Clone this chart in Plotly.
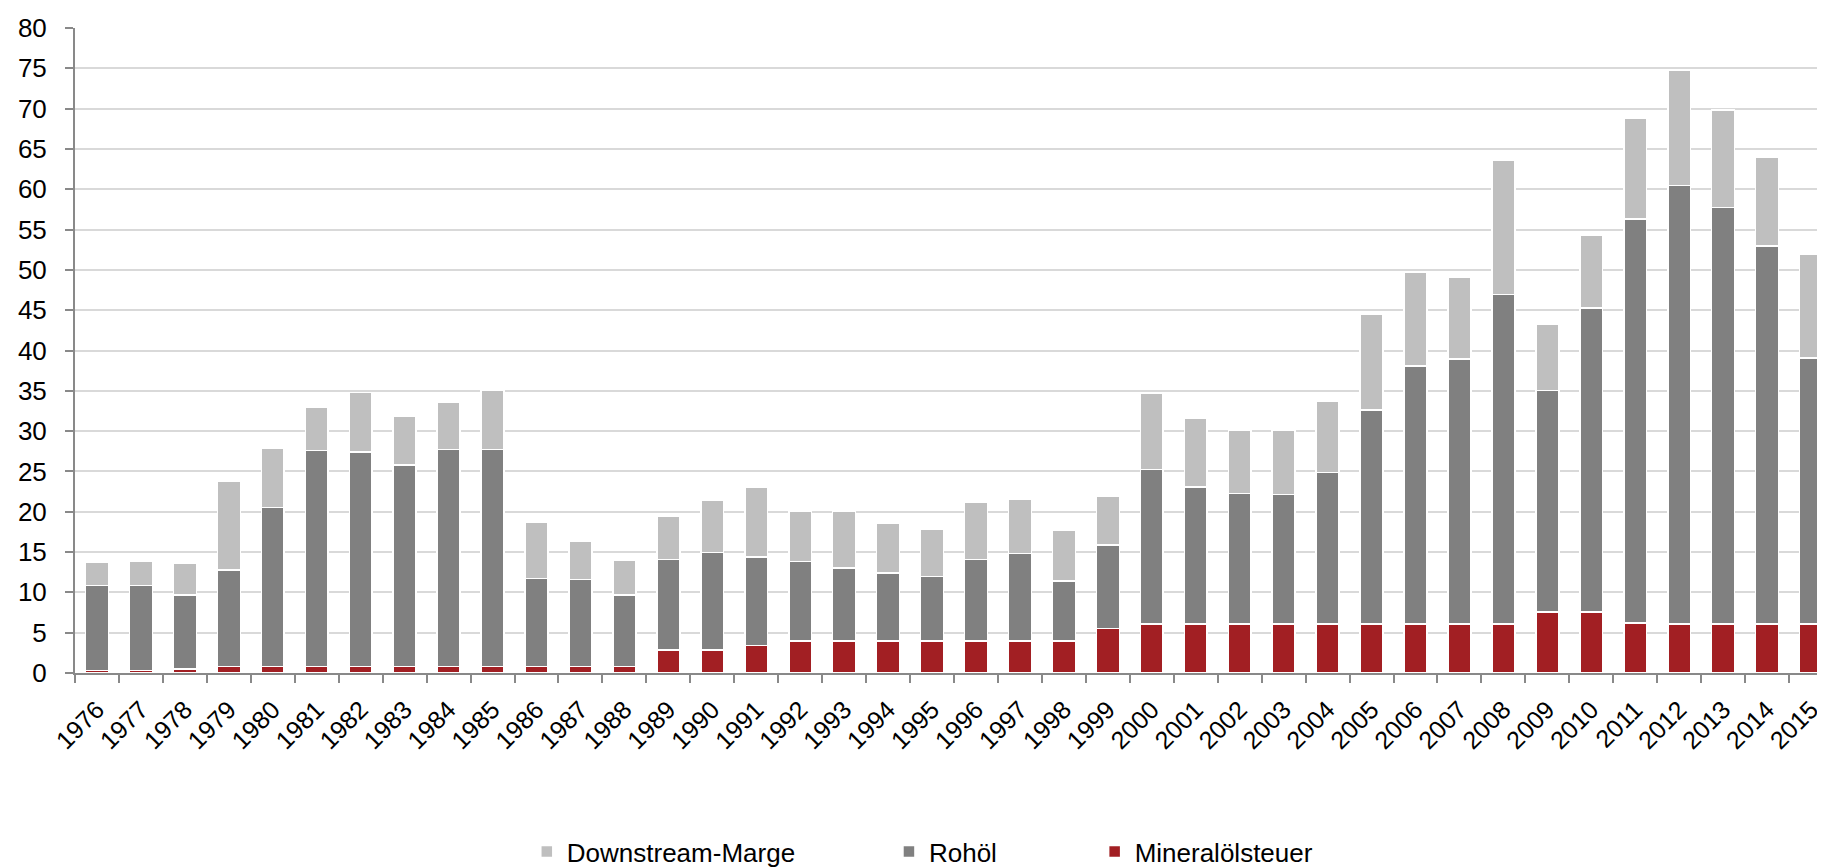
import plotly.graph_objects as go

# Years on the x axis
years = [str(y) for y in range(1976, 2016)]

# Segment values (stacked bottom to top)
mineraloelsteuer = [0.33, 0.33, 0.5, 0.8, 0.8, 0.8, 0.8, 0.8, 0.8, 0.8,
                    0.8, 0.8, 0.8, 2.85, 2.85, 3.4, 4.0, 4.0, 4.0, 4.0,
                    4.0, 4.0, 4.0, 5.5, 6.05, 6.05, 6.05, 6.05, 6.05, 6.05,
                    6.05, 6.05, 6.05, 7.55, 7.55, 6.2, 6.05, 6.05, 6.05, 6.05]

rohoel = [10.5, 10.5, 9.2, 12.0, 19.7, 26.8, 26.6, 25.0, 26.9, 26.9,
          10.9, 10.8, 8.9, 11.2, 12.1, 11.0, 9.8, 9.0, 8.4, 8.0,
          10.1, 10.8, 7.4, 10.4, 19.2, 17.0, 16.2, 16.1, 18.8, 26.6,
          32.0, 32.9, 40.9, 27.5, 37.7, 50.1, 54.4, 51.7, 46.9, 33.0]

downstream = [2.9, 3.0, 3.9, 11.0, 7.4, 5.3, 7.4, 6.0, 5.9, 7.4,
              7.0, 4.8, 4.3, 5.4, 6.5, 8.7, 6.3, 7.1, 6.2, 5.8,
              7.1, 6.8, 6.3, 6.0, 9.5, 8.6, 7.9, 8.0, 8.9, 11.9,
              11.6, 10.1, 16.7, 8.2, 9.1, 12.5, 14.3, 12.1, 11.0, 12.9]

y_ticks = list(range(0, 81, 5))

FONT = "Liberation Sans, Arial, sans-serif"

fig = go.Figure()

fig.add_trace(go.Bar(x=years, y=mineraloelsteuer, name="Mineralölsteuer",
                     marker=dict(color="#A21F23", line=dict(color="white", width=1.5)),
                     legend="legend3", showlegend=True))
fig.add_trace(go.Bar(x=years, y=rohoel, name="Rohöl",
                     marker=dict(color="#808080", line=dict(color="white", width=1.5)),
                     legend="legend2", showlegend=True))
fig.add_trace(go.Bar(x=years, y=downstream, name="Downstream-Marge",
                     marker=dict(color="#BFBFBF", line=dict(color="white", width=1.5)),
                     legend="legend", showlegend=True))

legend_common = dict(orientation="h", yanchor="middle", y=-0.2775, xanchor="left",
                     font=dict(family=FONT, size=26, color="#000000"),
                     bgcolor="rgba(0,0,0,0)", itemwidth=30)

fig.update_layout(
    width=1825,
    height=867,
    margin=dict(l=67, r=0, t=20, b=196),
    plot_bgcolor="white",
    paper_bgcolor="white",
    barmode="stack",
    bargap=0.48,
    showlegend=True,
    font=dict(family=FONT, color="#000000"),
    legend=dict(x=0.257, **legend_common),
    legend2=dict(x=0.463, **legend_common),
    legend3=dict(x=0.580, **legend_common),
    xaxis=dict(
        type="category",
        tickson="boundaries",
        ticks="outside",
        ticklen=8,
        tickcolor="#898989",
        tickwidth=2,
        showline=True,
        linecolor="#898989",
        linewidth=2,
        showgrid=False,
        tickangle=-45,
        ticklabelstandoff=10,
        tickfont=dict(family=FONT, size=25, color="#000000"),
    ),
    yaxis=dict(
        range=[0, 80],
        tickvals=y_ticks,
        ticks="outside",
        ticklen=8,
        tickcolor="#898989",
        tickwidth=2,
        showline=True,
        linecolor="#898989",
        linewidth=2,
        showgrid=True,
        gridcolor="#D9D9D9",
        gridwidth=1.5,
        zeroline=False,
        ticklabelstandoff=13,
        tickfont=dict(family=FONT, size=26, color="#000000"),
    ),
)

fig.write_html("out.html")
